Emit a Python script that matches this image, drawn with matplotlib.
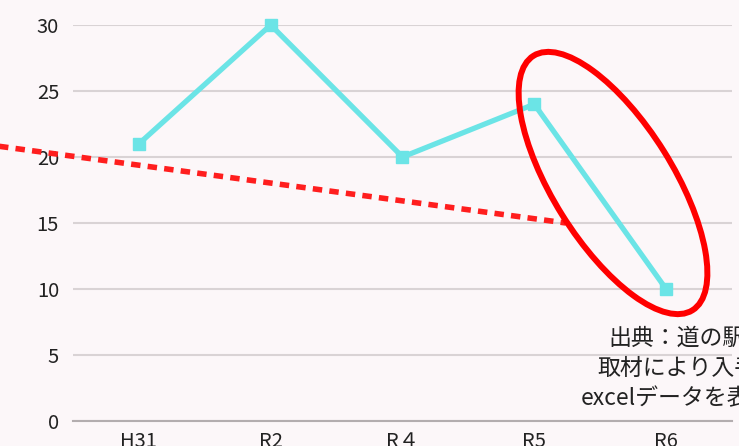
import matplotlib
matplotlib.use("Agg")
import matplotlib.pyplot as plt
from matplotlib.patches import Ellipse

plt.rcParams["font.family"] = ["Noto Sans CJK JP", "DejaVu Sans"]

# data
years = ["H31", "R2", "R４", "R5", "R6"]
visitors = [21, 30, 20, 24, 10]
y_ticks = [0, 5, 10, 15, 20, 25, 30]

# hand-drawn trend line (category index, value)
trend_x = [-1.2, 3.24]
trend_y = [21.0, 15.0]

note = "出典：道の駅への\n取材により入手した\nexcelデータを表示した"

bg = "#fcf7f9"
fig = plt.figure(figsize=(7.39, 4.46), dpi=100, facecolor=bg)
ax = fig.add_axes([0.0988, 0.056, 0.8917, 0.888], facecolor=bg)

x = list(range(len(years)))
ax.plot(x, visitors, color="#6be4e6", linewidth=3.8, marker="s",
        markersize=9, clip_on=False, zorder=3)
ax.plot(trend_x, trend_y, color="#ff1e1e", linewidth=4,
        linestyle=(0, (1.7, 1.3)), dash_capstyle="butt", clip_on=False, zorder=2)

ax.set_xlim(-0.5, len(years) - 0.5)
ax.set_ylim(0, 30)
ax.set_xticks(x)
ax.set_xticklabels(years)
ax.set_yticks(y_ticks)
ax.tick_params(axis="both", length=0, labelsize=14.5, colors="#222222")
ax.tick_params(axis="y", pad=10)
ax.tick_params(axis="x", pad=7)
ax.grid(axis="y", color="#d9d3d5", linewidth=1.5)
ax.set_axisbelow(True)
for side in ["top", "right", "left"]:
    ax.spines[side].set_visible(False)
ax.spines["bottom"].set_color("#b3adaf")
ax.spines["bottom"].set_linewidth(1.5)

# red ellipse highlight (inches from lower-left of figure)
ell = Ellipse((6.13, 2.63), width=3.0, height=1.2, angle=-58,
              fill=False, edgecolor="#ff0000", linewidth=4.3,
              transform=fig.dpi_scale_trans, zorder=4)
fig.patches.append(ell)

fig.text(7.0 / 7.39, 0.78 / 4.46, note, ha="center", va="center",
         multialignment="center", fontsize=16.5, color="#222222",
         linespacing=1.4)

fig.savefig("out.png", dpi=100, facecolor=bg)
